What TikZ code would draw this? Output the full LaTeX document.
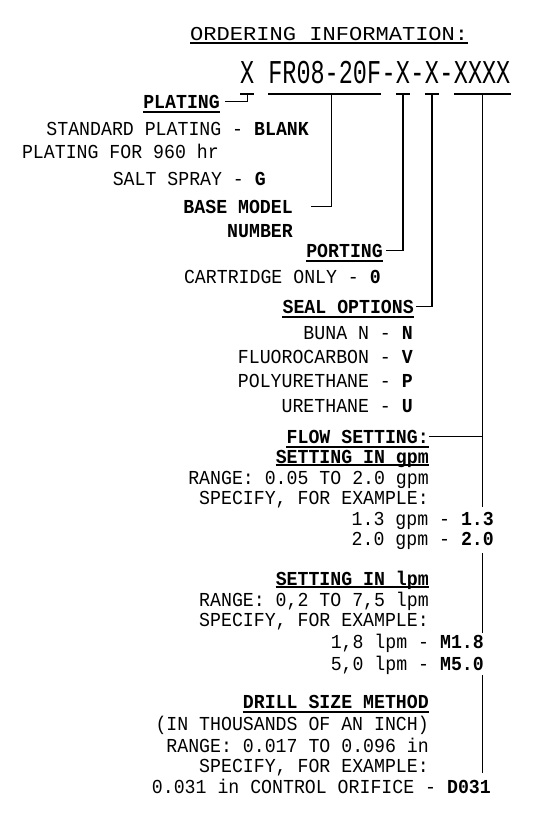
\documentclass[tikz,border=0pt]{standalone}
\usepackage{fontspec}
\usetikzlibrary{calc}
\newfontfamily\cadfont[FakeStretch=0.92]{Liberation Mono}
\newfontfamily\cadwide[FakeStretch=1.12]{Liberation Mono}
\newfontfamily\cadcode[FakeStretch=0.705]{Liberation Mono}
% underline below a text node
\newcommand\ulnode[2][4]{\draw[ln] ([yshift=-#1pt]#2.base west) -- ([yshift=-#1pt]#2.base east);}
\begin{document}
\begin{tikzpicture}[x=1pt, y=1pt,
    txt/.style={inner sep=0pt, anchor=base east, font=\cadfont\fontsize{19.8}{22}\selectfont},
    hd/.style={txt, font=\cadfont\bfseries\fontsize{19.8}{22}\selectfont},
    code/.style={inner sep=0pt, anchor=base west, font=\cadcode\fontsize{33.3}{36}\selectfont},
    ln/.style={line width=1.1pt}]
    \path[fill=white, use as bounding box] (0,0) rectangle (533,-825);

    % Title
    \node[inner sep=0pt, anchor=base west, font=\cadwide\fontsize{19.7}{22}\selectfont]
          (title) at (190,-40) {ORDERING INFORMATION:};
    \ulnode[3]{title}

    % Model code
    \node[code] (cPl) at (240,-83) {X};
    \node[code] (cBase) at (268.2,-83) {FR08-20F};
    \node[code] (d1) at (cBase.base east) {-};
    \node[code] (cPo) at (d1.base east) {X};
    \node[code] (d2) at (cPo.base east) {-};
    \node[code] (cSe) at (d2.base east) {X};
    \node[code] (d3) at (cSe.base east) {-};
    \node[code] (cFl) at (d3.base east) {XXXX};
    \ulnode[11]{cPl}
    \ulnode[11]{cBase}
    \ulnode[11]{cPo}
    \ulnode[11]{cSe}
    \ulnode[11]{cFl}

    % Plating
    \node[hd] (plating) at (220,-108) {PLATING};
    \ulnode{plating}
    \node[txt] (pl1) at (309,-135) {STANDARD PLATING - \textbf{BLANK}};
    \node[txt] (pl2) at (219,-158) {PLATING FOR 960 hr};
    \node[txt] (pl3) at (266,-185) {SALT SPRAY - \textbf{G}};

    % Base model
    \node[hd] (basemodel) at (293,-213) {BASE MODEL};
    \node[hd] (number) at (293,-237) {NUMBER};

    % Porting
    \node[hd] (porting) at (383,-257) {PORTING};
    \ulnode{porting}
    \node[txt] (po1) at (381,-283) {CARTRIDGE ONLY - \textbf{0}};

    % Seal options
    \node[hd] (seal) at (414,-313) {SEAL OPTIONS};
    \ulnode{seal}
    \node[txt] (se1) at (413,-339) {BUNA N - \textbf{N}};
    \node[txt] (se2) at (413,-363) {FLUOROCARBON - \textbf{V}};
    \node[txt] (se3) at (413,-387) {POLYURETHANE - \textbf{P}};
    \node[txt] (se4) at (413,-412) {URETHANE - \textbf{U}};

    % Flow setting, gpm
    \node[hd] (flow) at (429,-443) {FLOW SETTING:};
    \ulnode{flow}
    \node[hd] (gpm) at (429,-463) {SETTING IN gpm};
    \ulnode[2]{gpm}
    \node[txt] (g1) at (429,-484) {RANGE: 0.05 TO 2.0 gpm};
    \node[txt] (g2) at (429,-504) {SPECIFY, FOR EXAMPLE:};
    \node[txt] (g13) at (494,-525) {1.3 gpm - \textbf{1.3}};
    \node[txt] (g20) at (494,-545) {2.0 gpm - \textbf{2.0}};

    % Flow setting, lpm
    \node[hd] (lpm) at (429,-585) {SETTING IN lpm};
    \ulnode[2]{lpm}
    \node[txt] (l1) at (429,-606) {RANGE: 0,2 TO 7,5 lpm};
    \node[txt] (l2) at (429,-626) {SPECIFY, FOR EXAMPLE:};
    \node[txt] (m18) at (484,-648) {1,8 lpm - \textbf{M1.8}};
    \node[txt] (m50) at (484,-670) {5,0 lpm - \textbf{M5.0}};

    % Drill size
    \node[hd] (drill) at (429,-708) {DRILL SIZE METHOD};
    \ulnode{drill}
    \node[txt] (dr1) at (429,-730) {(IN THOUSANDS OF AN INCH)};
    \node[txt] (dr2) at (429,-752) {RANGE: 0.017 TO 0.096 in};
    \node[txt] (dr3) at (429,-772) {SPECIFY, FOR EXAMPLE:};
    \node[txt] (d031) at (491,-793) {0.031 in CONTROL ORIFICE - \textbf{D031}};

    % Leaders
    \draw[ln] ([yshift=-11pt]cPl.base) |- ([xshift=5pt]plating.east);
    \draw[ln] ([xshift=7pt, yshift=-11pt]cBase.base) |- ([xshift=18pt]basemodel.east);
    \draw[ln] ([yshift=-11pt]cPo.base) |- ([xshift=3pt]porting.east);
    \draw[ln] ([yshift=-11pt]cSe.base) |- ([xshift=2pt]seal.east);
    \draw[ln] ([yshift=-11pt]cFl.base) |- (flow.east);
    \draw[ln] ([yshift=-11pt]cFl.base) -- ($(cFl.base |- g13.base)+(0,18)$);
    \draw[ln] ($(cFl.base |- g20.base)+(0,-8)$) -- ($(cFl.base |- m18.base)+(0,15)$);
    \draw[ln] ($(cFl.base |- m50.base)+(0,-5)$) -- ($(cFl.base |- d031.base)+(0,20)$);
\end{tikzpicture}
\end{document}
